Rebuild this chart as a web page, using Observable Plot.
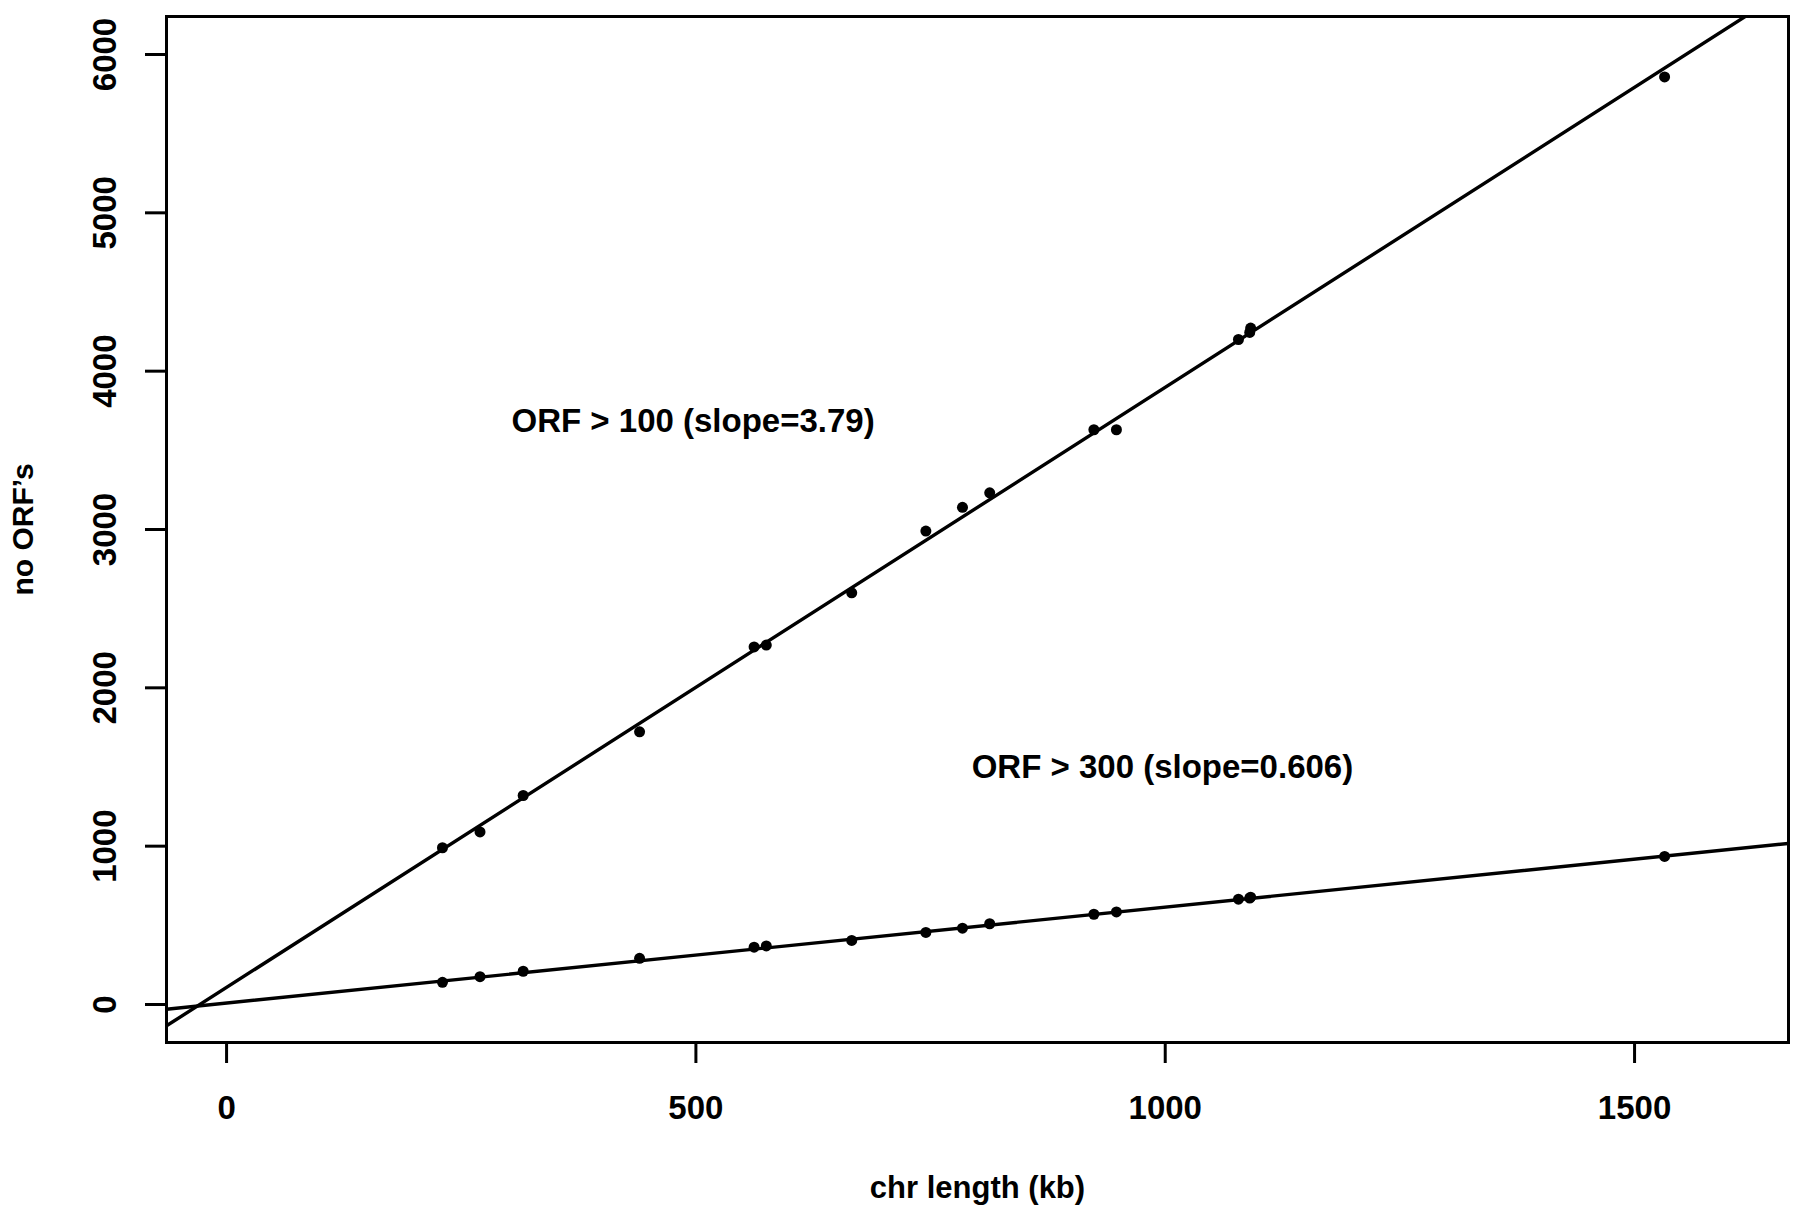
<!DOCTYPE html>
<html>
<head>
<meta charset="utf-8">
<script src="https://cdn.jsdelivr.net/npm/d3@7"></script>
<script src="https://cdn.jsdelivr.net/npm/@observablehq/plot@0.6"></script>
<style>
  html, body { margin: 0; padding: 0; background: #fff; }
</style>
</head>
<body>
<div id="chart"></div>
<script>
// Chromosome lengths (kb)
const chrLength = [230, 270, 316, 440, 562, 575, 666, 745, 784, 813, 924, 948, 1078, 1090, 1091, 1532];
// Number of ORFs > 100 codons
const orf100 = [990, 1090, 1320, 1722, 2258, 2270, 2600, 2990, 3140, 3232, 3630, 3630, 4200, 4245, 4272, 5858];
// Number of ORFs > 300 codons
const orf300 = [140, 176, 210, 292, 362, 370, 405, 455, 482, 510, 570, 585, 665, 672, 678, 935];

// Fitted lines
const fitNames = ["ORF > 100 (slope=3.79)", "ORF > 300 (slope=0.606)"];
const fitSlopes = [3.79, 0.606];
const fitIntercepts = [108, 9];
const labelX = [497, 997];
const labelY = [3680, 1497];

const xTicks = [0, 500, 1000, 1500];
const yTicks = [0, 1000, 2000, 3000, 4000, 5000, 6000];
const xDomain = [-64, 1664];
const yDomain = [-240, 6240];

const points = chrLength.flatMap((x, i) => [
  {x, y: orf100[i], s: "100"},
  {x, y: orf300[i], s: "300"}
]);
const lines = fitSlopes.flatMap((m, i) => xDomain.map(x => ({x, y: fitIntercepts[i] + m * x, k: i})));
const labels = fitNames.map((t, i) => ({t, x: labelX[i], y: labelY[i]}));

const font = "'Liberation Sans', Arial, Helvetica, sans-serif";

const chart = Plot.plot({
  width: 1800,
  height: 1214,
  marginLeft: 166,
  marginRight: 12,
  marginTop: 16,
  marginBottom: 172,
  x: {domain: xDomain, axis: null},
  y: {domain: yDomain, axis: null},
  style: {fontFamily: font, fontWeight: "bold", background: "#fff", color: "#000"},
  marks: [
    Plot.line(lines, {x: "x", y: "y", z: "k", stroke: "#000", strokeWidth: 3.4, clip: true}),
    Plot.dot(points, {x: "x", y: "y", r: 5.5, fill: "#000", stroke: "none"}),
    Plot.text(labels, {x: "x", y: "y", text: "t", fontSize: 33, fill: "#000"}),
    Plot.frame({stroke: "#000", strokeWidth: 3}),
    Plot.axisX({ticks: xTicks, tickSize: 21, tickFormat: () => "", strokeWidth: 3, label: null}),
    Plot.axisY({ticks: yTicks, tickSize: 21, tickFormat: () => "", strokeWidth: 3, label: null}),
    Plot.text(xTicks, {x: d => d, text: d => String(d), frameAnchor: "bottom", lineAnchor: "middle", textAnchor: "middle", dy: 66, fontSize: 33, fill: "#000"}),
    Plot.text(yTicks, {y: d => d, text: d => String(d), frameAnchor: "left", lineAnchor: "middle", textAnchor: "middle", dx: -61, rotate: -90, fontSize: 33, fill: "#000"}),
    Plot.text(["chr length (kb)"], {frameAnchor: "bottom", lineAnchor: "middle", textAnchor: "middle", dy: 146, fontSize: 31, fill: "#000"}),
    Plot.text(["no ORF\u2019s"], {frameAnchor: "left", lineAnchor: "middle", textAnchor: "middle", dx: -143, rotate: -90, fontSize: 30, fill: "#000"})
  ]
});
document.getElementById("chart").appendChild(chart);
</script>
</body>
</html>
